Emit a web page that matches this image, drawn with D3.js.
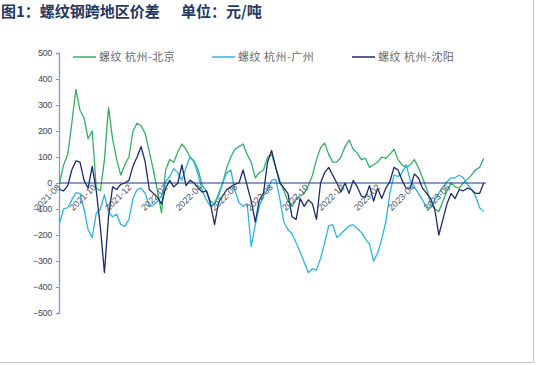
<!DOCTYPE html>
<html>
<head>
<meta charset="utf-8">
<script src="https://cdn.jsdelivr.net/npm/d3@7"></script>
<style>
  body { margin: 0; background: #fff; }
  svg { display: block; font-family: "Noto Sans CJK SC", "Noto Sans", sans-serif; }
</style>
</head>
<body>
<div id="chart"></div>
<script>
// weekly readings, first point 2021-08-02
var startDate = "2021-08-02";

var seriesNames = ["螺纹 杭州-北京", "螺纹 杭州-广州", "螺纹 杭州-沈阳"];

var bjValues = [0, 70, 110, 230, 360, 280, 250, 170, 200, -20,
  -30, 90, 290, 170, 90, 30, 70, 100, 200, 230,
  220, 190, 120, 50, -30, -115, 50, 90, 80, 120,
  150, 130, 100, 85, 50, -10, -30, -70, -80, -40,
  0, 60, 100, 130, 140, 150, 110, 80, 20, 40,
  50, 100, 110, 60, 10, -30, -70, -90, -60, -50,
  -40, -10, 30, 90, 135, 154, 110, 80, 80, 100,
  140, 165, 130, 115, 90, 95, 60, 70, 80, 100,
  95, 110, 130, 90, 70, 60, 70, 90, 60, 20,
  -20, -80, -100, -110, -70, -30, 0, -15, -20, 0,
  15, 30, 50, 60, 95];

var gzValues = [-155, -100, -95, -65, -38, -40, -100, -180, -210, -115,
  -100, -45, -110, -130, -120, -160, -167, -140, -60, -25,
  -20, -40, -90, -85, -70, -50, 5, 25, 55, 40,
  10, 60, 100, 80, 30, -30, -65, -90, -80, -50,
  0, 40, 50, -30, -75, -90, -80, -245, -160, -90,
  -50, -25, 10, 15, -60, -150, -180, -195, -230, -265,
  -305, -345, -330, -335, -290, -230, -165, -160, -210, -195,
  -180, -165, -160, -175, -190, -215, -235, -300, -270, -215,
  -150, -40, 30, 25, 40, 70, 10, -15, -40, -65,
  -95, -95, -65, -40, -15, 5, 20, 20, 30, 20,
  -5, -25, -50, -95, -110];

var syValues = [-25, -30, -10, 50, 85, 80, 10, -20, 64, -30,
  -170, -345, -130, -15, -25, -5, 0, 10, 65, 100,
  140, 80, -25, -40, -55, -80, -20, 10, -15, 0,
  70, -10, 10, 0, -20, -35, -30, -80, -160, -75,
  -50, -25, -15, -5, 0, 50, -10, -70, -150, -65,
  -40, 80, 125, 60, 0, -20, -40, -130, -140, -60,
  -90, -65, -80, -140, 0, 40, 60, 30, 0, -35,
  0, -40, 10, -15, -50, -55, -10, -70, -20, -60,
  -20, 5, 60, 50, 10, -20, -20, 35, 20, -20,
  -40, -60, -100, -200, -140, -80, -40, -60, -25, -30,
  -20, -25, -40, -40, 0];

var yTicks = [500, 400, 300, 200, 100, 0, -100, -200, -300, -400, -500];
var xTickLabels = ["2021-08", "2021-10", "2021-12", "2022-02", "2022-04", "2022-06",
  "2022-08", "2022-10", "2022-12", "2023-02", "2023-04", "2023-06"];

var colors = ["#33b065", "#29b5e6", "#1c2a6b"];

var svgWidth = 540, svgHeight = 365;
var plot = { left: 59, right: 486, top: 53, bottom: 313 };

var svg = d3.select("#chart").append("svg")
  .attr("width", svgWidth)
  .attr("height", svgHeight);

// frame (right and bottom edges only visible)
svg.append("line").attr("x1", 533.5).attr("x2", 533.5).attr("y1", 0).attr("y2", 363)
  .attr("stroke", "#c8c8c8").attr("stroke-width", 1.2);
svg.append("line").attr("x1", 0).attr("x2", 534).attr("y1", 362.5).attr("y2", 362.5)
  .attr("stroke", "#c8c8c8").attr("stroke-width", 1.2);

// title
svg.append("text").attr("x", 1).attr("y", 17)
  .attr("font-size", 15).attr("font-weight", "bold").attr("fill", "#1f3864")
  .text("图1：螺纹钢跨地区价差");
svg.append("text").attr("x", 181).attr("y", 17)
  .attr("font-size", 15).attr("font-weight", "bold").attr("fill", "#1f3864")
  .text("单位：元/吨");

var parse = d3.timeParse("%Y-%m-%d");
var start = parse(startDate);
var dates = bjValues.map((d, i) => d3.timeDay.offset(start, 7 * i));

var x = d3.scaleTime()
  .domain([parse("2021-08-01"), parse("2023-08-04")])
  .range([plot.left, plot.right]);

var y = d3.scaleLinear()
  .domain([-500, 500])
  .range([plot.bottom, plot.top]);

// y axis
var yAxis = svg.append("g")
  .attr("transform", `translate(${plot.left},0)`)
  .call(d3.axisLeft(y).tickValues(yTicks).tickSize(3).tickPadding(4));
yAxis.select(".domain").attr("stroke", "#8a9ab8").attr("stroke-width", 1.3);
yAxis.selectAll(".tick line").attr("stroke", "#8a9ab8");
yAxis.selectAll(".tick text")
  .attr("font-size", 9).attr("fill", "#404a60")
  .attr("font-family", "Liberation Sans, Arial, sans-serif")
  .style("letter-spacing", "-0.3px");

// series
var line = d3.line()
  .x((d, i) => x(dates[i]))
  .y(d => y(d));

[bjValues, gzValues, syValues].forEach(function(vals, k) {
  svg.append("path")
    .datum(vals)
    .attr("fill", "none")
    .attr("stroke", colors[k])
    .attr("stroke-width", 1.3)
    .attr("stroke-linejoin", "round")
    .attr("d", line);
});

// zero axis line
svg.append("line")
  .attr("x1", plot.left).attr("x2", plot.right)
  .attr("y1", y(0)).attr("y2", y(0))
  .attr("stroke", "#1f3a7a").attr("stroke-width", 1.1);

// x tick labels, rotated, hanging under the zero line
var monthParse = d3.timeParse("%Y-%m");
svg.append("g").selectAll("text")
  .data(xTickLabels)
  .enter()
  .append("text")
  .attr("transform", d => `translate(${x(monthParse(d)) + 2},${y(0) + 5}) rotate(-45)`)
  .attr("text-anchor", "end")
  .attr("font-size", 9)
  .attr("fill", "#44546a")
  .attr("font-family", "Liberation Sans, Arial, sans-serif")
  .text(d => d);

// legend
var legendX = [73, 212, 352];
var legend = svg.append("g").selectAll("g")
  .data(seriesNames)
  .enter()
  .append("g")
  .attr("transform", (d, i) => `translate(${legendX[i]},57)`);
legend.append("line")
  .attr("x1", 0).attr("x2", 23)
  .attr("stroke", (d, i) => colors[i]).attr("stroke-width", 1.5);
legend.append("text")
  .attr("x", 26).attr("y", 4)
  .attr("font-size", 11)
  .attr("fill", "#6a6a6a")
  .style("letter-spacing", "0.5px")
  .text(d => d);
</script>
</body>
</html>
